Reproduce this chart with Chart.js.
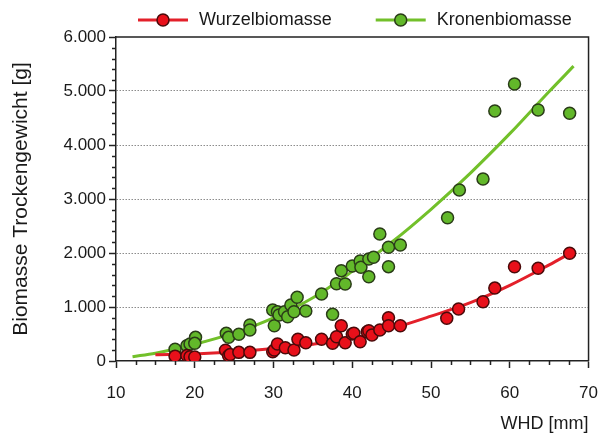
<!DOCTYPE html>
<html><head><meta charset="utf-8">
<script src="https://cdn.jsdelivr.net/npm/chart.js@4.4.0/dist/chart.umd.min.js"></script>
<style>html,body{margin:0;padding:0;background:#fff;}#wrap{width:613px;height:439px;}</style>
</head><body><div id="wrap"><canvas id="c" width="613" height="439"></canvas></div>
<script>
// ---- data ----
const seriesNames = ['Wurzelbiomasse', 'Kronenbiomasse'];
const xTitle = 'WHD [mm]';
const yTitle = 'Biomasse Trockengewicht [g]';
const xTicks = [10, 20, 30, 40, 50, 60, 70];
const yTicks = [0, 1000, 2000, 3000, 4000, 5000, 6000];

const wurzelX = [17.5, 19.0, 19.4, 20.0, 23.9, 24.3, 24.5, 25.6, 27.0, 29.9, 30.1, 30.5, 31.5, 32.6, 33.1, 34.1, 36.1, 37.5, 38.0, 38.6, 39.1, 40.0, 40.2, 41.0, 41.9, 42.1, 42.5, 43.5, 44.6, 44.6, 46.1, 52.0, 53.5, 56.6, 58.1, 60.6, 63.6, 67.6];
const wurzelY = [90, 100, 80, 75, 200, 98, 120, 160, 160, 172, 204, 315, 246, 204, 402, 339, 402, 328, 450, 654, 339, 500, 513, 357, 543, 561, 481, 574, 802, 654, 654, 791, 963, 1098, 1350, 1746, 1717, 1994];

const kronenX = [17.5, 19.0, 19.4, 20.1, 20.0, 24.0, 24.3, 25.6, 27.0, 27.0, 29.9, 30.1, 30.5, 30.7, 31.4, 31.8, 32.2, 32.6, 33.0, 34.1, 36.1, 37.5, 38.0, 38.6, 39.1, 40.0, 41.0, 41.1, 42.1, 42.1, 42.7, 43.5, 44.6, 44.6, 46.1, 52.1, 53.6, 56.6, 58.1, 60.6, 63.6, 67.6];
const kronenY = [216, 283, 315, 438, 327, 512, 438, 494, 667, 574, 944, 654, 913, 852, 913, 821, 1037, 913, 1179, 926, 1241, 864, 1432, 1673, 1426, 1759, 1852, 1735, 1561, 1889, 1920, 2352, 2105, 1747, 2148, 2654, 3167, 3370, 4630, 5130, 4648, 4587];

// fitted curves
const wurzelFitX = [15, 20, 25, 30, 35, 40, 45, 50, 55, 60, 65, 67.6];
const wurzelFitY = [115, 130, 170, 230, 310, 420, 600, 830, 1080, 1400, 1780, 1990];
const kronenFitX = [12.1, 15, 20, 25, 30, 35, 40, 45, 50, 55, 60, 65, 68.1];
const kronenFitY = [80, 145, 310, 520, 800, 1170, 1660, 2200, 2810, 3480, 4210, 4990, 5460];

// ---- styling ----
const RED_FILL = '#e8101a', RED_EDGE = '#4a0a0a', RED_LINE = '#e3202a';
const GRN_FILL = '#62b82a', GRN_EDGE = '#2a3c18', GRN_LINE = '#72c02a';
const AXIS = '#222';
const FONT = "'Liberation Sans', Arial, sans-serif";

const pts = (xs, ys) => xs.map((x, i) => ({x, y: ys[i]}));
const fmt = v => String(v).replace(/\B(?=(\d{3})+(?!\d))/g, '.');

const minorTicks = {
  id: 'minorTicks',
  afterDraw(chart) {
    const {ctx, scales: {x, y}, chartArea: a} = chart;
    ctx.save();
    ctx.strokeStyle = AXIS; ctx.lineWidth = 1.5;
    ctx.beginPath();
    ctx.moveTo(a.left, a.top); ctx.lineTo(a.right, a.top); ctx.lineTo(a.right, a.bottom);
    ctx.stroke();
    ctx.beginPath();
    for (let v = x.min; v <= x.max + 1e-9; v += 2.5) {
      if (Math.abs(v % 10) < 1e-6) continue;
      const px = Math.round(x.getPixelForValue(v)) + 0.5;
      ctx.moveTo(px, a.bottom); ctx.lineTo(px, a.bottom + 4);
    }
    for (let v = y.min; v <= y.max + 1e-9; v += 200) {
      if (Math.abs(v % 1000) < 1e-6) continue;
      const py = Math.round(y.getPixelForValue(v)) + 0.5;
      ctx.moveTo(a.left, py); ctx.lineTo(a.left - 4, py);
    }
    ctx.stroke();
    ctx.restore();
  }
};

const legendPlugin = {
  id: 'customLegend',
  afterDraw(chart) {
    const {ctx} = chart;
    const items = [
      {name: seriesNames[0], line: RED_LINE, fill: RED_FILL, edge: RED_EDGE},
      {name: seriesNames[1], line: GRN_LINE, fill: GRN_FILL, edge: GRN_EDGE}
    ];
    ctx.save();
    ctx.font = '18px ' + FONT;
    ctx.textBaseline = 'middle';
    let x = 138; const yc = 20;
    items.forEach(it => {
      ctx.strokeStyle = it.line; ctx.lineWidth = 3;
      ctx.beginPath(); ctx.moveTo(x, yc); ctx.lineTo(x + 50, yc); ctx.stroke();
      ctx.beginPath(); ctx.arc(x + 25, yc, 6, 0, Math.PI * 2);
      ctx.fillStyle = it.fill; ctx.fill();
      ctx.lineWidth = 1.5; ctx.strokeStyle = it.edge; ctx.stroke();
      ctx.fillStyle = '#1a1a1a';
      ctx.fillText(it.name, x + 61, yc);
      x += 61 + ctx.measureText(it.name).width + 44;
    });
    ctx.restore();
  }
};

new Chart(document.getElementById('c'), {
  type: 'scatter',
  data: {
    datasets: [
      {label: seriesNames[0], data: pts(wurzelX, wurzelY), showLine: false,
       pointRadius: 6, pointBackgroundColor: RED_FILL, pointBorderColor: RED_EDGE, pointBorderWidth: 1.5},
      {label: seriesNames[0] + ' fit', data: pts(wurzelFitX, wurzelFitY), showLine: true,
       pointRadius: 0, borderColor: RED_LINE, borderWidth: 3, cubicInterpolationMode: 'monotone'},
      {label: seriesNames[1], data: pts(kronenX, kronenY), showLine: false,
       pointRadius: 6, pointBackgroundColor: GRN_FILL, pointBorderColor: GRN_EDGE, pointBorderWidth: 1.5},
      {label: seriesNames[1] + ' fit', data: pts(kronenFitX, kronenFitY), showLine: true,
       pointRadius: 0, borderColor: GRN_LINE, borderWidth: 3, cubicInterpolationMode: 'monotone'}
    ]
  },
  options: {
    responsive: false, animation: false, devicePixelRatio: 1,
    layout: {padding: {left: 0, right: 12, top: 37, bottom: 0}},
    plugins: {legend: {display: false}, tooltip: {enabled: false}},
    scales: {
      x: {
        type: 'linear', min: xTicks[0], max: xTicks[xTicks.length - 1],
        afterBuildTicks: s => { s.ticks = xTicks.map(v => ({value: v})); },
        afterFit: s => { s.height = 78; },
        ticks: {font: {size: 17, family: FONT}, color: '#1a1a1a', padding: 15, maxRotation: 0},
        grid: {drawOnChartArea: false, tickLength: 7, tickColor: AXIS, tickWidth: 1.5},
        border: {color: AXIS, width: 1.5},
        title: {display: true, text: xTitle, align: 'end', color: '#1a1a1a',
                font: {size: 18, family: FONT}, padding: {top: 0, bottom: 4}}
      },
      y: {
        type: 'linear', min: yTicks[0], max: yTicks[yTicks.length - 1],
        afterBuildTicks: s => { s.ticks = yTicks.map(v => ({value: v})); },
        afterFit: s => { s.width = 116; },
        ticks: {font: {size: 17, family: FONT}, color: '#1a1a1a', padding: 3, callback: v => fmt(v)},
        grid: {color: c => (c.tick && (c.tick.value === yTicks[0] || c.tick.value === yTicks[yTicks.length - 1])) ? 'rgba(0,0,0,0)' : '#8c8c8c',
               lineWidth: 1, tickLength: 7, tickColor: AXIS, tickWidth: 1.5, tickBorderDash: []},
        border: {color: AXIS, width: 1.5, dash: [1.5, 1.5]},
        title: {display: true, text: yTitle, color: '#1a1a1a',
                font: {size: 21, family: FONT}, padding: {top: 9, bottom: 0}}
      }
    }
  },
  plugins: [minorTicks, legendPlugin]
});
</script></body></html>
